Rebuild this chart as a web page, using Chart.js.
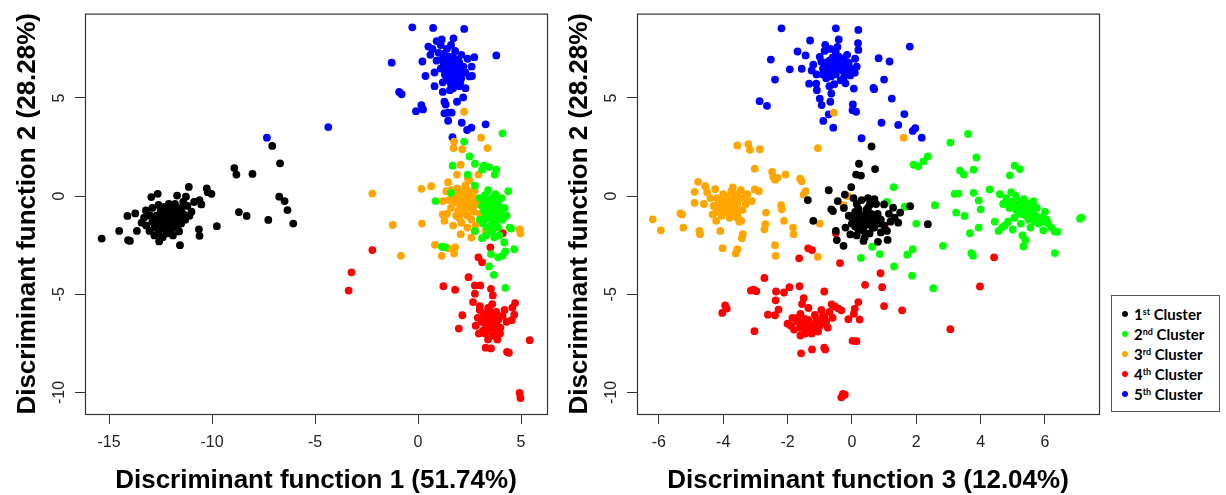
<!DOCTYPE html>
<html>
<head>
<meta charset="utf-8">
<script src="https://cdn.jsdelivr.net/npm/chart.js@4.4.0/dist/chart.umd.min.js"></script>
<style>
  body { margin: 0; background: #fff; }
  #wrap { position: relative; width: 1226px; height: 495px; overflow: hidden; }
  canvas { position: absolute; top: 0; }
  #c1 { left: 0; }
  #c2 { left: 552px; }
  #legend { position: absolute; left: 1111px; top: 295px; width: 107px; height: 115px;
            border: 1px solid #555; background: #fff;
            font: bold 15px Lato, "Open Sans", sans-serif; color: #000; }
  .row { position: absolute; left: 0; height: 20px; line-height: 20px; white-space: nowrap; }
  .dot { position: absolute; left: 10px; top: 7px; width: 6px; height: 6px; border-radius: 50%; }
  .lbl { position: absolute; left: 22px; }
  .lbl sup { font-size: 9px; vertical-align: 5px; line-height: 0; }
</style>
</head>
<body>
<div id="wrap">
  <canvas id="c1" width="560" height="495"></canvas>
  <canvas id="c2" width="560" height="495"></canvas>
  <div id="legend"></div>
</div>
<script>
// tick labels
const xTicks12 = [-15, -10, -5, 0, 5];
const xTicks32 = [-6, -4, -2, 0, 2, 4, 6];
const yTicks = [-10, -5, 0, 5];

// legend
const clusterNums = ['1', '2', '3', '4', '5'];
const clusterSuffix = ['st', 'nd', 'rd', 'th', 'th'];
const clusterColors = ['#000000', '#00ff00', '#ffa500', '#ff0000', '#0000ff'];

// Discriminant function 1 vs 2  ([df1, df2])
const df12Black = [
  [-15.36,-2.16],[-14.51,-1.77],[-14.11,-1.01],[-13.73,-0.88],[-14.08,-2.24],[-13.99,-2.28],[-13.65,-1.77],
  [-13.42,-1.35],[-13.21,-0.73],[-12.95,-0.05],[-12.64,0.12],[-12.57,-2.31],[-13.04,-1.77],[-11.70,0.03],
  [-11.56,-2.50],[-11.13,0.47],[-11.27,-0.03],[-10.87,-0.30],[-10.61,-0.20],[-10.26,0.39],[-10.21,0.20],
  [-10.03,0.12],[-10.52,-0.42],[-10.64,-1.69],[-10.61,-2.02],[-9.77,-1.53],[-11.0,-0.79],[-8.92,1.43],
  [-8.82,1.10],[-8.04,1.13],[-8.70,-0.81],[-8.32,-1.01],[-7.27,-1.21],[-7.08,2.56],[-6.70,1.67],
  [-6.74,-0.03],[-6.48,-0.25],[-6.34,-0.71],[-6.06,-1.40],
  [-12.1,-1.1],[-12.3,-1.3],[-11.9,-0.9],[-12.5,-1.5],[-11.7,-0.7],[-12.0,-1.4],[-12.2,-0.8],[-12.6,-1.2],
  [-11.8,-1.2],[-12.4,-1.0],[-11.6,-1.0],[-12.8,-1.6],[-12.0,-0.6],[-11.5,-0.6],[-12.7,-1.0],[-12.3,-1.7],
  [-11.9,-1.5],[-11.4,-0.9],[-12.9,-1.3],[-12.2,-1.9],[-11.8,-0.4],[-12.5,-0.7],[-11.3,-1.2],[-12.1,-0.4],
  [-12.6,-1.9],[-11.7,-1.6],[-13.0,-1.0],[-11.2,-0.5],[-12.4,-2.1],[-11.9,-2.0],[-12.9,-0.6],[-11.5,-1.4],
  [-12.0,-1.8],[-12.2,-1.2],[-11.95,-1.05],[-12.15,-0.95],[-12.35,-1.15],[-11.85,-0.75],[-12.45,-1.35],
  [-11.65,-1.25],[-12.75,-1.45],[-12.05,-1.6],[-11.4,-0.3],[-13.2,-1.5],[-12.6,-0.45],[-11.1,-1.0],
  [-13.3,-1.1],[-12.8,-2.0],[-11.6,-1.8],[-12.3,-0.55],
  [-12.1,-1.25],[-11.95,-1.3],[-12.25,-1.05],[-12.4,-1.25],[-11.75,-0.95],[-12.2,-1.5],[-11.85,-1.45],
  [-12.55,-1.1],[-12.0,-0.85],[-12.3,-0.9],[-11.6,-0.8],[-12.65,-1.35],[-12.05,-1.15],[-11.5,-1.1],
  [-12.45,-1.6],[-11.8,-1.0]
];
const df12Green = [
  [4.10,3.20],[2.24,2.78],[2.50,2.02],[2.76,1.65],[1.68,1.55],[3.19,1.55],[3.45,1.48],[3.80,1.35],[3.72,1.10],
  [3.11,1.35],[2.41,1.10],[0.85,-0.25],[1.60,0.17],[4.38,0.25],[2.76,0.54],[4.44,-1.60],[4.52,-1.65],
  [2.76,-1.77],[3.11,-2.14],[4.18,-2.36],[4.23,-2.82],[4.67,-2.70],[3.54,-2.95],[3.89,-3.12],[4.10,-3.04],
  [3.45,-3.58],[3.68,-4.01],[4.24,-4.67],[1.16,-2.58],[1.30,-2.60],
  [3.5,-0.6],[3.3,-0.3],[3.7,-0.9],[3.9,-0.4],[3.2,-0.8],[3.6,-0.1],[4.0,-0.8],[3.4,-1.1],[3.8,-1.3],
  [3.1,-0.5],[4.2,-0.6],[3.55,-1.5],[3.0,-1.2],[3.75,0.1],[4.1,-1.2],[3.35,-1.6],[3.65,-0.35],[3.45,-0.85],
  [3.85,-0.7],[3.25,0.05],[4.05,-0.1],[3.6,-1.8],[3.9,-1.6],[3.15,-1.4],[4.3,-1.0],[3.0,-0.1],[3.4,0.3],
  [3.7,-2.1],[3.95,-2.0],[3.3,-2.0],
  [3.5,-0.45],[3.6,-0.75],[3.4,-0.6],[3.7,-0.5],[3.55,-1.0],[3.3,-0.9],[3.8,-0.95],[3.45,-0.25],
  [3.65,-1.25],[3.95,-0.9],[3.25,-1.15],[3.75,-0.2]
];
const df12Orange = [
  [-2.22,0.13],[-1.23,-1.47],[-0.83,-3.04],[0.19,-1.40],[0.16,0.37],[0.64,0.51],[0.82,-2.48],[1.15,-3.04],
  [1.46,0.71],[2.24,4.30],[1.75,2.78],[1.72,2.45],[2.15,2.39],[3.06,2.98],[3.37,2.45],[1.80,-2.61],
  [1.75,-2.92],[1.46,-2.65],[4.93,-1.69],[4.97,-1.89],[1.20,-0.93],[1.28,-1.26],[2.07,-1.94],[2.59,-2.11],
  [1.20,-0.25],[1.37,0.25],[2.76,-1.77],[3.28,-1.77],[1.89,1.10],[2.41,0.93],[2.93,1.10],[2.07,1.60],
  [2.3,-0.25],[2.0,0.1],[2.6,-0.5],[1.8,-0.3],[2.5,0.2],[2.2,-0.7],[2.8,-0.1],[1.6,-0.6],[2.4,-1.0],
  [1.9,0.4],[2.7,-0.8],[2.1,-0.4],[2.45,0.05],[1.7,0.0],[2.9,-0.4],[2.15,-0.15],[2.35,-0.55],[2.55,-0.2],
  [1.95,-0.75],[2.25,0.3],[1.5,-0.2],[2.75,0.3],[2.0,-1.1],[2.6,-1.2],[1.85,-1.0],[3.0,-0.9],[1.6,0.3],
  [2.3,0.55],[2.1,-1.35],[1.4,-0.9],[2.8,-1.5],[2.4,-1.6],[1.7,-1.5],[3.1,-0.2],[2.5,0.8],
  [2.3,-0.4],[2.2,-0.1],[2.45,-0.3],[2.05,-0.5],[2.6,-0.3],[2.35,0.1],[2.15,-0.6],[2.5,-0.6],
  [1.95,-0.2],[2.7,-0.5],[2.25,-0.85],[2.4,0.3],[1.85,0.15],[2.55,0.0]
];
const df12Red = [
  [4.93,-10.03],[4.97,-10.29],[5.42,-7.34],[4.41,-7.98],[4.32,-7.93],[3.28,-7.72],[3.54,-7.76],[1.98,-6.75],
  [2.15,-6.07],[1.23,-4.59],[1.80,-4.77],[2.45,-4.13],[2.76,-4.55],[3.02,-4.55],[2.93,-3.12],[3.11,-3.37],
  [3.51,-2.61],[4.11,-1.89],[-2.22,-2.75],[-3.23,-3.88],[-3.37,-4.81],[4.67,-6.04],[4.55,-6.32],[4.71,-5.45],
  [4.58,-5.68],[3.54,-4.72],[3.63,-5.06],[2.76,-4.97],[2.67,-5.40],[3.98,-7.0],
  [3.45,-6.3],[3.2,-6.0],[3.7,-6.6],[3.0,-5.8],[3.6,-6.1],[3.3,-6.7],[3.9,-6.3],[3.1,-6.4],[3.5,-6.9],
  [3.8,-5.9],[2.9,-6.2],[3.4,-5.7],[4.0,-6.7],[3.25,-7.0],[3.65,-7.1],[3.55,-6.45],[3.35,-6.15],[3.75,-6.8],
  [4.2,-5.8],[2.8,-6.6],[3.0,-5.6],[3.6,-5.5],[4.1,-6.1],[3.15,-6.85],[3.85,-7.3],[2.95,-7.0],[4.3,-6.4],
  [3.4,-7.3],
  [3.45,-6.5],[3.55,-6.2],[3.35,-6.4],[3.65,-6.35],[3.5,-6.7],[3.3,-6.55],[3.7,-6.1],[3.6,-6.85],
  [3.4,-6.0],[3.8,-6.6],[3.2,-6.3],[3.55,-5.9]
];
const df12Blue = [
  [-0.28,8.60],[0.73,8.57],[2.24,8.52],[-1.28,6.80],[-0.92,5.31],[-0.80,5.19],[0.21,6.86],[3.80,7.17],
  [0.16,4.64],[-0.10,4.33],[0.24,4.42],[0.80,5.60],[1.20,5.31],[1.28,4.81],[1.34,4.67],[1.46,4.25],
  [1.28,4.22],[1.63,4.25],[1.46,3.84],[1.89,4.81],[2.19,5.03],[2.12,3.74],[2.38,3.37],[2.59,3.49],
  [3.28,3.66],[1.67,3.0],[-4.36,3.52],[-7.34,2.98],[2.73,7.08],[2.62,6.12],[0.36,6.12],[1.72,8.04],
  [1.15,7.98],[0.50,7.62],
  [1.6,6.4],[1.4,6.7],[1.8,6.1],[1.2,7.0],[2.0,6.8],[1.5,5.9],[1.9,6.5],[1.3,6.2],[1.7,7.1],[2.1,6.0],
  [1.1,6.5],[1.6,5.7],[2.2,6.6],[1.0,7.3],[1.8,7.4],[1.4,7.5],[2.3,6.3],[1.7,5.5],[0.9,6.9],[2.0,5.6],
  [1.5,6.9],[1.2,5.8],[2.4,7.0],[0.7,7.5],[0.6,7.2],[1.9,5.9],[1.3,6.6],[1.7,6.7],[2.1,7.2],[1.5,6.2],
  [1.6,7.7],[2.5,6.1],[0.8,6.3],[1.85,6.25],[1.45,6.45],[1.65,6.05],[1.35,6.85],[1.95,6.95],[2.05,5.8],
  [1.25,7.25],[2.6,6.6],[1.1,7.7],[2.3,5.5],[0.9,7.9],[1.55,5.4],
  [1.6,6.6],[1.75,6.4],[1.45,6.3],[1.55,6.0],[1.85,6.7],[1.35,6.5],[1.65,6.85],[2.0,6.3],[1.25,6.75],
  [1.9,6.1],[1.7,5.95],[1.5,7.1],[2.15,6.45],[1.4,6.05],[1.8,5.75]
];

// Discriminant function 3 vs 2  ([df3, df2])
const df32Black = [
  [0.61,2.53],[0.72,1.38],[0.22,1.65],[0.13,1.1],[0.28,1.05],[-0.02,0.46],[-0.72,0.3],[-1.37,-0.2],
  [-1.2,-1.26],[-0.64,-0.67],[-0.59,-0.76],[-0.44,-0.25],[-0.22,0.08],[-0.5,-1.77],[-0.47,-2.24],
  [-0.26,-2.53],[0.36,-2.28],[0.81,-2.33],[1.11,-2.23],[1.09,-1.77],[1.44,-1.35],[1.5,-0.84],[1.81,-0.51],
  [2.36,-1.43],[1.0,-0.42],[1.28,-0.59],[1.33,-1.1],
  [0.35,-1.1],[0.1,-0.8],[0.6,-1.3],[0.0,-1.4],[0.5,-0.6],[0.2,-1.7],[0.8,-0.9],[-0.1,-1.0],[0.4,-1.5],
  [0.7,-1.6],[0.15,-0.4],[0.9,-1.2],[-0.2,-1.6],[0.55,-1.9],[0.3,-0.2],[1.0,-1.5],[0.25,-1.25],
  [0.45,-0.85],[0.65,-1.05],[-0.05,-1.95],[0.75,-0.4],[0.05,-0.1],[1.15,-0.9],[0.9,-1.85],[0.15,-2.0],
  [0.5,-0.1],[-0.25,-0.6],[1.2,-1.3],[0.4,-2.1],[0.7,-0.15],
  [0.35,-1.0],[0.45,-1.2],[0.25,-0.95],[0.55,-1.1],[0.4,-1.35],[0.2,-1.15],[0.6,-0.9],[0.5,-1.45],
  [0.3,-1.55],[0.7,-1.25],[0.15,-1.3],[0.8,-1.05],[0.1,-1.55],[0.45,-0.7],[0.65,-1.6],[0.35,-1.75],
  [0.85,-1.4],[0.0,-1.1],[0.2,-0.65],[0.55,-0.45]
];
const df32Green = [
  [3.61,3.17],[3.06,2.73],[3.87,1.97],[2.36,2.02],[2.22,1.77],[1.92,1.6],[2.06,1.52],[3.36,1.3],[3.48,1.1],
  [3.78,1.35],[5.06,1.55],[5.22,1.38],[4.91,1.06],[3.19,0.12],[3.31,0.13],[3.78,0.17],[4.28,0.34],[1.3,0.46],
  [1.09,-0.3],[1.64,-0.54],[2.58,-0.46],[2.0,-1.4],[3.24,-0.84],[3.5,-1.01],[3.94,-0.22],[4.0,-0.67],
  [3.67,-1.89],[3.94,-1.6],[3.71,-2.9],[3.76,-3.04],[2.83,-2.53],[1.89,-2.7],[1.72,-2.98],[0.87,-2.95],
  [0.63,-2.58],[0.28,-3.15],[1.31,-3.58],[1.87,-4.05],[2.53,-4.69],[6.31,-2.9],[5.33,-2.56],[5.39,-2.24],
  [7.09,-1.15],[7.13,-1.1],[6.39,-1.82],[4.44,-1.3],[4.56,-1.77],[4.67,-1.6],
  [5.3,-0.6],[5.0,-0.3],[5.6,-0.9],[4.8,-0.1],[5.9,-1.1],[5.2,-0.9],[5.45,-0.35],[4.9,-0.6],[5.75,-0.6],
  [6.1,-1.4],[5.1,0.0],[5.5,-1.2],[4.7,-0.4],[6.0,-0.8],[5.35,-0.15],[5.8,-1.4],[5.05,-1.1],[4.6,0.1],
  [6.2,-1.6],[5.25,-1.4],[4.85,-1.3],[5.65,-0.25],[6.05,-1.2],[5.4,-0.8],[4.95,0.2],[5.15,-0.45],
  [5.7,-1.0],[4.75,-1.5],[5.55,-1.6],[6.3,-1.8],[5.95,-1.75],[5.3,-2.0],[5.0,-1.7],
  [5.3,-0.7],[5.4,-0.55],[5.2,-0.5],[5.5,-0.8],[5.1,-0.7],[5.35,-0.95],[5.6,-0.7],[5.0,-0.5],
  [5.8,-1.1],[5.45,-1.05],[5.25,-0.3],[5.7,-1.3],[4.9,-0.3],[5.55,-0.45],[5.95,-1.3]
];
const df32Orange = [
  [-6.19,-1.18],[-5.94,-1.74],[-5.33,-0.88],[-5.28,-0.93],[-5.24,-1.6],[-4.74,-1.77],[-4.72,-1.94],
  [-4.89,0.22],[-4.78,0.73],[-4.56,0.51],[-4.89,-0.34],[-4.02,-2.65],[-4.09,-1.77],[-3.61,-2.92],
  [-3.56,-2.7],[-3.42,-2.14],[-3.39,-1.94],[-3.56,2.58],[-3.22,2.65],[-3.17,2.36],[-2.86,2.39],[-3.02,1.4],
  [-2.39,0.84],[-2.48,1.23],[-2.44,0.98],[-2.31,0.93],[-2.06,1.1],[-1.61,0.89],[-1.56,0.76],[-1.44,0.25],
  [-1.5,0.08],[-2.2,-0.46],[-2.18,-0.67],[-2.67,-0.84],[-2.69,-1.43],[-2.72,-1.69],[-2.11,-1.26],
  [-1.83,-1.6],[-1.81,-1.94],[-2.39,-2.5],[-2.37,-3.04],[-1.06,2.45],[-1.06,-3.09],[-1.0,-1.4],
  [-0.56,4.25],[1.61,2.98],[-0.13,0.0],[-0.26,-0.46],[0.47,-0.73],[1.03,-1.52],[-3.02,0.34],[-2.89,0.25],
  [-3.33,-0.08],[-3.11,-0.25],[-3.56,-1.1],[-3.44,-1.26],[-4.22,-1.26],[-4.33,-0.93],
  [-3.85,-0.4],[-4.1,-0.2],[-3.6,-0.6],[-4.3,-0.5],[-3.5,-0.1],[-3.9,-0.8],[-4.0,0.1],[-3.7,-0.3],
  [-4.4,-0.1],[-3.4,-0.7],[-3.75,0.25],[-4.2,-0.8],[-3.55,-1.0],[-3.95,-0.55],[-3.65,-0.05],[-4.15,-0.35],
  [-3.8,-1.1],[-3.3,-0.4],[-4.5,0.2],[-3.45,0.3],[-4.05,-1.0],[-3.7,0.45],[-3.6,-0.85],[-4.25,0.35],
  [-3.25,0.1],[-3.85,-0.15],[-4.6,-0.4],[-3.5,-1.3],
  [-3.85,-0.3],[-3.75,-0.5],[-3.95,-0.4],[-3.65,-0.45],[-4.05,-0.25],[-3.8,-0.65],[-3.7,-0.15],
  [-3.9,-0.05],[-4.1,-0.55],[-3.55,-0.35],[-4.0,-0.75],[-3.6,0.1],[-4.2,-0.1],[-3.75,-0.9]
];
const df32Red = [
  [-4.03,-5.95],[-3.89,-5.73],[-3.94,-5.57],[-3.03,-6.88],[-2.72,-4.17],[-3.14,-4.81],[-3.06,-4.77],
  [-2.97,-4.84],[-2.36,-4.86],[-2.37,-5.31],[-2.11,-4.91],[-1.94,-4.64],[-1.63,-4.59],[-2.61,-6.04],
  [-2.39,-6.07],[-2.28,-5.78],[-0.86,-4.86],[-1.64,-3.17],[-1.36,-2.66],[-1.24,-2.75],[-0.5,-1.89],
  [-0.37,-3.41],[-0.86,-7.72],[-0.83,-7.81],[-1.58,-8.01],[-1.24,-7.81],[0.02,-7.37],[0.14,-7.39],
  [-0.28,-10.07],[-0.33,-10.25],[-0.22,-10.12],[-0.11,-6.27],[0.24,-6.29],[0.06,-5.99],[0.09,-5.73],
  [0.2,-5.4],[0.41,-4.52],[-0.42,-5.73],[-0.33,-5.82],[-0.63,-5.51],[-0.53,-5.62],[0.94,-4.64],
  [0.89,-3.93],[1.0,-5.6],[1.56,-5.82],[3.06,-6.78],[3.98,-4.6],[4.42,-3.12],
  [-1.3,-6.5],[-1.5,-6.7],[-1.1,-6.3],[-1.7,-6.4],[-0.9,-6.1],[-1.4,-6.9],[-1.2,-6.8],[-1.0,-6.6],
  [-1.6,-6.0],[-0.8,-6.4],[-1.8,-6.8],[-1.35,-5.7],[-1.55,-5.5],[-0.7,-5.9],[-1.9,-6.6],[-1.25,-7.0],
  [-1.05,-6.9],[-1.45,-6.25],[-0.95,-5.8],[-1.6,-7.1],[-0.6,-6.2],[-2.0,-6.5],[-1.15,-6.05],[-0.75,-6.7],
  [-1.5,-5.2],[-1.85,-6.2],
  [-1.3,-6.65],[-1.2,-6.55],[-1.4,-6.55],[-1.1,-6.7],[-1.5,-6.45],[-1.0,-6.4],[-1.3,-6.85],[-1.6,-6.7],
  [-0.9,-6.5],[-1.35,-6.3],[-1.15,-6.85],[-1.45,-7.0],[-0.85,-6.2],[-1.7,-6.2]
];
const df32Blue = [
  [-2.19,8.55],[-0.5,8.55],[0.2,8.47],[-0.41,7.98],[-1.3,7.93],[0.19,7.79],[0.2,7.45],[1.8,7.62],
  [-1.69,7.37],[-2.52,6.96],[-1.93,6.46],[-2.39,5.94],[0.83,7.03],[1.17,6.86],[1.0,5.94],[0.67,5.51],
  [0.69,5.45],[1.24,4.97],[-2.87,4.84],[-2.64,4.6],[0.03,4.67],[0.02,4.38],[0.13,4.3],[1.63,4.18],
  [-0.89,3.83],[-0.72,4.17],[-0.58,3.49],[0.92,3.74],[1.44,3.63],[1.89,3.32],[1.97,3.46],[2.17,2.98],
  [0.3,2.95],[-1.11,5.73],[-1.09,5.4],[-1.0,4.97],[-0.94,4.64],[-0.67,4.81],[-0.64,5.23],[-1.33,5.73],
  [0.06,5.48],[0.09,6.29],[-1.44,7.17],[-1.56,6.49],[-0.83,7.71],[-0.67,7.5],
  [-0.45,6.6],[-0.7,6.9],[-0.2,6.3],[-0.9,6.5],[-0.3,7.0],[-0.6,6.2],[-0.1,6.8],[-1.0,7.1],[-0.5,7.3],
  [-0.8,6.0],[0.0,6.5],[-0.35,5.9],[-1.2,6.7],[-0.15,7.2],[-0.65,6.75],[-0.4,6.45],[-0.85,7.4],[0.1,7.0],
  [-1.1,6.2],[-0.55,5.7],[-0.25,6.05],[-0.75,6.35],[-0.05,6.15],[-0.95,6.85],[-0.5,6.95],[-0.3,6.65],
  [-0.6,7.05],[0.15,6.6],[-1.25,6.4],[-0.2,5.75],[-0.7,5.6],[-0.45,7.6],
  [-0.45,6.75],[-0.55,6.5],[-0.35,6.8],[-0.6,6.6],[-0.3,6.4],[-0.7,6.55],[-0.5,6.2],[-0.2,6.6],
  [-0.8,6.8],[-0.4,7.1],[-0.65,6.1],[-0.1,6.35],[-0.9,6.2],[-0.25,6.9]
];

const tickFont = { family: '"Liberation Sans", Arial, sans-serif', size: 16 };
const titleFont = { family: '"Liberation Sans", Arial, sans-serif', size: 26, weight: 'bold', lineHeight: 1 };

// R-style box around the plot region
const boxPlugin = {
  id: 'box',
  afterDraw(chart) {
    const { ctx, chartArea: a } = chart;
    ctx.save();
    ctx.strokeStyle = '#333';
    ctx.lineWidth = 1.2;
    ctx.strokeRect(a.left + 0.5, a.top + 0.5, a.right - a.left, a.bottom - a.top);
    ctx.restore();
  }
};

function toPts(arr) {
  return arr.map(p => ({ x: p[0], y: p[1] }));
}

function makePlot(id, groups, xTicks, xMin, xMax, xTitle) {
  const datasets = groups.map((g, i) => ({
    data: toPts(g),
    backgroundColor: clusterColors[i],
    borderColor: clusterColors[i],
    borderWidth: 0,
    pointRadius: 3.9,
    pointHoverRadius: 3.9
  }));
  return new Chart(document.getElementById(id), {
    type: 'scatter',
    data: { datasets },
    options: {
      responsive: false,
      animation: false,
      events: [],
      layout: { padding: { top: 10, right: 13, left: 0, bottom: 0 } },
      plugins: { legend: { display: false }, tooltip: { enabled: false } },
      scales: {
        x: {
          type: 'linear',
          min: xMin,
          max: xMax,
          afterBuildTicks: s => { s.ticks = xTicks.map(v => ({ value: v })); },
          afterFit: s => { s.height = 81; },
          border: { display: false },
          grid: { drawOnChartArea: false, drawTicks: true, tickLength: 10, color: '#333' },
          ticks: { padding: 9, color: '#222', font: tickFont, maxRotation: 0 },
          title: { display: true, text: xTitle, color: '#000', font: titleFont, padding: { top: 0, bottom: 1 } }
        },
        y: {
          type: 'linear',
          min: -11.1,
          max: 9.3,
          afterBuildTicks: s => { s.ticks = yTicks.map(v => ({ value: v })); },
          afterFit: s => { s.width = 85; },
          border: { display: false },
          grid: { drawOnChartArea: false, drawTicks: true, tickLength: 10, color: '#333' },
          ticks: { padding: 4, color: '#222', font: tickFont, minRotation: 90, maxRotation: 90, crossAlign: 'center' },
          title: { display: true, text: 'Discriminant function 2 (28.28%)', color: '#000', font: titleFont, padding: { top: 15, bottom: 0 } }
        }
      }
    },
    plugins: [boxPlugin]
  });
}

makePlot('c1', [df12Black, df12Green, df12Orange, df12Red, df12Blue], xTicks12, -16.17, 6.26,
  'Discriminant function 1 (51.74%)');
makePlot('c2', [df32Black, df32Green, df32Orange, df32Red, df32Blue], xTicks32, -6.68, 7.68,
  'Discriminant function 3 (12.04%)');

// legend
const legend = document.getElementById('legend');
clusterNums.forEach((n, i) => {
  const row = document.createElement('div');
  row.className = 'row';
  row.style.top = (8 + i * 20) + 'px';
  row.innerHTML = '<span class="dot" style="background:' + clusterColors[i] + '"></span>' +
    '<span class="lbl">' + n + '<sup>' + clusterSuffix[i] + '</sup> Cluster</span>';
  legend.appendChild(row);
});
</script>
</body>
</html>
